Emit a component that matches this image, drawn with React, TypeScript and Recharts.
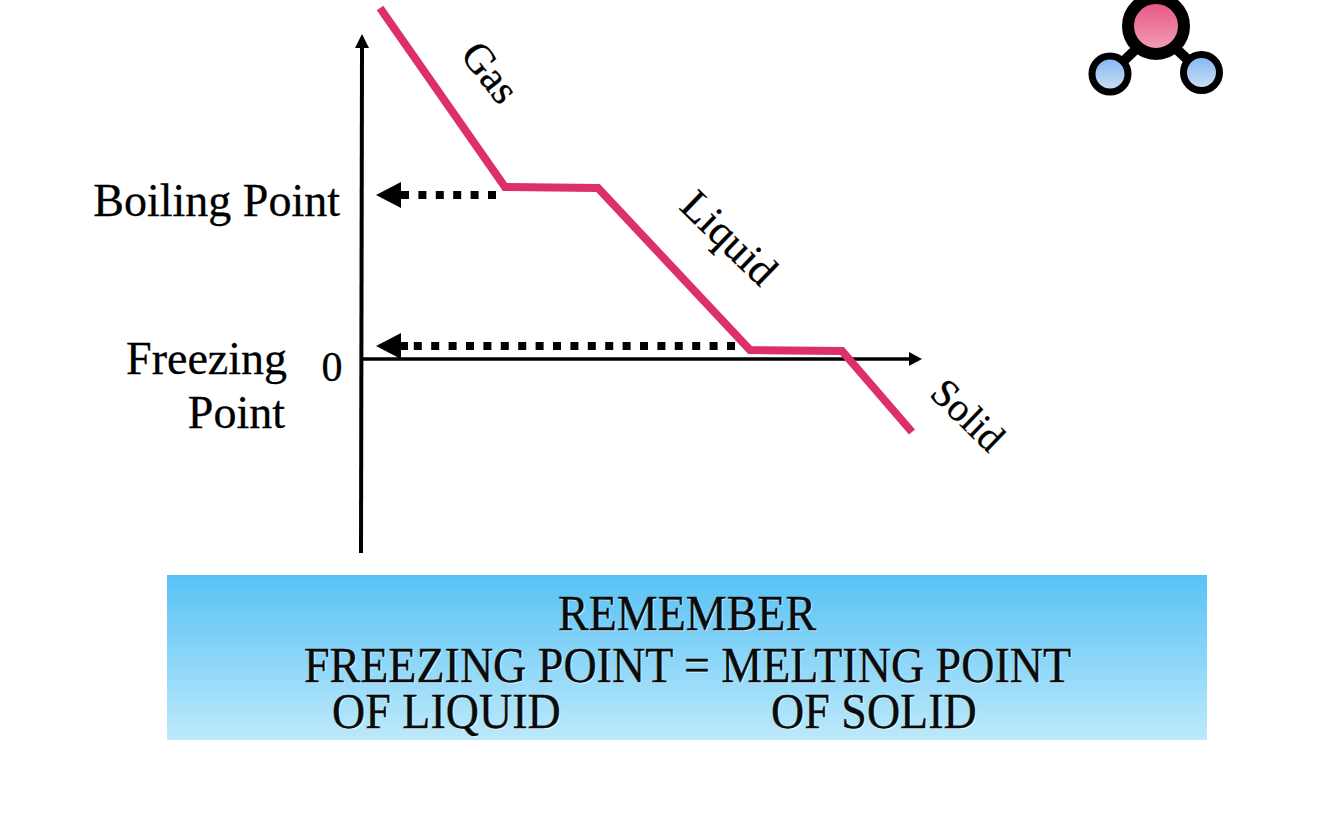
import React from "react";
import { ComposedChart, Line, XAxis, YAxis, ReferenceDot } from "recharts";

const coolingTime = [18, 143, 236, 388, 480, 550];
const coolingTemp = [351, 172, 171, 9, 8, -73];
const yAxisTime = [-1, 0];
const yAxisTemp = [-194, 311];
const xAxisTime = [0, 547];
const xAxisTemp = [0, 0];
const boilingGuideTime = [134, 46];
const boilingGuideTemp = [164, 164];
const freezingGuideTime = [373, 46];
const freezingGuideTemp = [13, 13];
const phaseNames = ["Gas", "Liquid", "Solid"];
const phaseTime = [125, 364, 603];
const phaseTemp = [284, 118, -59];
const phaseAngle = [52, 44, 44];
const phaseSize = [42, 43, 40];
const tickValues = [164, 0];

const SERIF = "'Liberation Serif', serif";
const zip = (t: number[], v: number[]) => t.map((time, i) => ({ time, temp: v[i] }));

const cooling = zip(coolingTime, coolingTemp);
const yAxisLine = zip(yAxisTime, yAxisTemp);
const xAxisLine = zip(xAxisTime, xAxisTemp);
const boilingGuide = zip(boilingGuideTime, boilingGuideTemp);
const freezingGuide = zip(freezingGuideTime, freezingGuideTemp);

const endArrow = (dir: "up" | "right") => (p: any) => {
  const { cx, cy, index } = p;
  if (index !== 1) return <g key={index} />;
  const pts = dir === "up"
    ? `${cx},${cy - 14} ${cx - 7},${cy} ${cx + 7},${cy}`
    : `${cx + 13},${cy} ${cx},${cy - 7} ${cx},${cy + 7}`;
  return <polygon key={index} points={pts} fill="#000" />;
};

const guideArrow = (p: any) => {
  const { cx, cy, index } = p;
  if (index !== 1) return <g key={index} />;
  return (
    <g key={index}>
      <polygon points={`${cx - 32},${cy} ${cx - 7},${cy - 13} ${cx - 7},${cy + 13}`} fill="#000" />
      <rect x={cx - 8} y={cy - 4} width={8} height={8} fill="#000" />
    </g>
  );
};

const AxisTick = (p: any) => {
  const { y, payload } = p;
  if (payload.value === 0) {
    return (
      <g fontFamily={SERIF} fill="#000" stroke="#000" strokeWidth={0.3}>
        <text x={332} y={y + 22} fontSize={42} textAnchor="middle">0</text>
        <text x={287} y={y + 15} fontSize={46} textAnchor="end">Freezing</text>
        <text x={285} y={y + 69} fontSize={46} textAnchor="end">Point</text>
      </g>
    );
  }
  return (
    <text x={340} y={y + 21} fontFamily={SERIF} fontSize={46} textAnchor="end" fill="#000" stroke="#000" strokeWidth={0.3}>
      Boiling Point
    </text>
  );
};

const PhaseLabel = (angle: number, name: string, size: number) => (p: any) => (
  <text
    x={p.cx}
    y={p.cy}
    transform={`rotate(${angle} ${p.cx} ${p.cy})`}
    fontFamily={SERIF}
    fontSize={size}
    textAnchor="middle"
    dominantBaseline="middle"
    fill="#000"
    stroke="#000"
    strokeWidth={0.3}
  >
    {name}
  </text>
);

const bannerLine = (top: number): React.CSSProperties => ({
  position: "absolute",
  top,
  whiteSpace: "nowrap",
  fontFamily: SERIF,
  fontSize: 50,
  lineHeight: "46px",
  color: "#0b0b0b",
  WebkitTextStroke: "0.3px #0b0b0b",
  textShadow: "1px 1px 1px rgba(255,255,255,0.8)",
  transformOrigin: "left center",
  transform: "scaleX(0.92)",
});

export default function App() {
  return (
    <div style={{ position: "absolute", left: 0, top: 0, width: 1332, height: 838, background: "#fff", overflow: "hidden" }}>
      <ComposedChart
        width={1332}
        height={838}
        margin={{ top: 0, right: 0, bottom: 0, left: 0 }}
        style={{ position: "absolute", left: 0, top: 0 }}
      >
        <XAxis type="number" dataKey="time" domain={[-262, 970]} hide allowDataOverflow />
        <YAxis
          type="number"
          dataKey="temp"
          domain={[-479, 359]}
          width={100}
          ticks={tickValues}
          interval={0}
          axisLine={false}
          tickLine={false}
          tick={AxisTick}
          allowDataOverflow
        />
        <Line data={yAxisLine} dataKey="temp" stroke="#000" strokeWidth={4} dot={endArrow("up")} isAnimationActive={false} legendType="none" />
        <Line data={xAxisLine} dataKey="temp" stroke="#000" strokeWidth={3.5} dot={endArrow("right")} isAnimationActive={false} legendType="none" />
        <Line data={boilingGuide} dataKey="temp" stroke="#000" strokeWidth={8} strokeDasharray="8 9.4" dot={guideArrow} isAnimationActive={false} legendType="none" />
        <Line data={freezingGuide} dataKey="temp" stroke="#000" strokeWidth={8} strokeDasharray="8 9.4" dot={guideArrow} isAnimationActive={false} legendType="none" />
        <Line data={cooling} dataKey="temp" stroke="#DC2F6C" strokeWidth={8} strokeLinejoin="miter" dot={false} isAnimationActive={false} legendType="none" />
        {phaseNames.map((name, i) => (
          <ReferenceDot
            key={name}
            x={phaseTime[i]}
            y={phaseTemp[i]}
            r={0}
            ifOverflow="visible"
            shape={PhaseLabel(phaseAngle[i], name, phaseSize[i])}
          />
        ))}
      </ComposedChart>

      <svg width={160} height={100} viewBox="1080 0 160 100" style={{ position: "absolute", left: 1080, top: 0 }}>
        <defs>
          <linearGradient id="pinkBall" x1="0" y1="0" x2="0" y2="1">
            <stop offset="0" stopColor="#E8507E" />
            <stop offset="1" stopColor="#F2A5BC" />
          </linearGradient>
          <linearGradient id="blueBall" x1="0" y1="0" x2="0" y2="1">
            <stop offset="0" stopColor="#7FB6F5" />
            <stop offset="1" stopColor="#CFE0F2" />
          </linearGradient>
        </defs>
        <line x1={1156} y1={30} x2={1110} y2={74} stroke="#000" strokeWidth={10} />
        <line x1={1156} y1={30} x2={1201} y2={72} stroke="#000" strokeWidth={10} />
        <circle cx={1156} cy={26} r={28} fill="url(#pinkBall)" stroke="#000" strokeWidth={12} />
        <circle cx={1110} cy={74} r={18} fill="url(#blueBall)" stroke="#000" strokeWidth={7} />
        <circle cx={1201.5} cy={72.5} r={18} fill="url(#blueBall)" stroke="#000" strokeWidth={7} />
      </svg>

      <div
        style={{
          position: "absolute",
          left: 167,
          top: 575,
          width: 1040,
          height: 165,
          background: "linear-gradient(180deg, #58C2F5 0%, #BDE9FB 100%)",
        }}
      >
        <div style={{ ...bannerLine(15), left: 391 }}>REMEMBER</div>
        <div style={{ ...bannerLine(67), left: 137 }}>FREEZING POINT = MELTING POINT</div>
        <div style={{ ...bannerLine(113), left: 165 }}>OF LIQUID</div>
        <div style={{ ...bannerLine(113), left: 604 }}>OF SOLID</div>
      </div>
    </div>
  );
}
